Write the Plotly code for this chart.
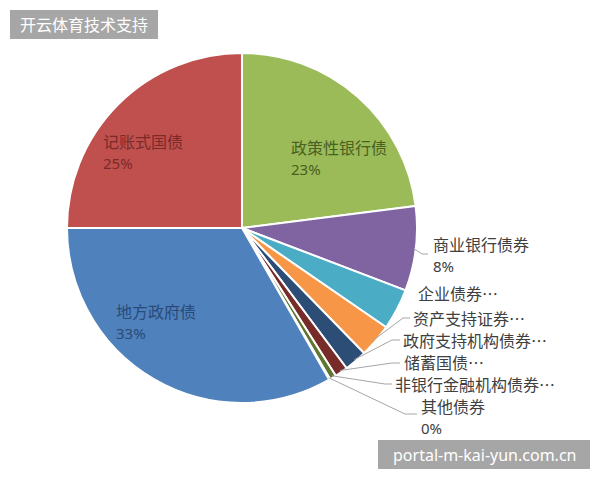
import math
import plotly.graph_objects as go

# ---- data ----
labels = ["政策性银行债", "商业银行债券", "企业债券", "资产支持证券", "政府支持机构债券",
          "储蓄国债", "非银行金融机构债券", "其他债券", "地方政府债", "记账式国债"]
values = [23.0, 7.8, 3.8, 3.1, 2.1, 1.2, 0.6, 0.1, 33.3, 25.0]
display_labels = ["政策性银行债", "商业银行债券", "企业债券…", "资产支持证券…", "政府支持机构债券…",
                  "储蓄国债…", "非银行金融机构债券…", "其他债券", "地方政府债", "记账式国债"]
show_percent = [True, True, False, False, False, False, False, True, True, True]
colors = ["#9BBB59", "#8064A2", "#4BACC6", "#F79646", "#2C4D75",
          "#772C2A", "#5F7530", "#4D3B62", "#4F81BD", "#C0504D"]

W, H = 600, 480
CX, CY, R = 242, 228, 175
FONT = "Noto Sans CJK SC"
LATIN = "Noto Sans"

def px(x):
    return x / W

def py(y):
    return 1 - y / H

fig = go.Figure(go.Pie(
    labels=labels, values=values, sort=False, direction="clockwise", rotation=0,
    marker=dict(colors=colors, line=dict(color="white", width=2)),
    textinfo="none", hoverinfo="label+percent",
    domain=dict(x=[px(CX - R), px(CX + R)], y=[py(CY + R), py(CY - R)]),
    showlegend=False,
))

total = sum(values)
cum = 0
mid_angles = []
for v in values:
    mid_angles.append((cum + v / 2) / total * 2 * math.pi)
    cum += v

def edge_point(i, r=R):
    a = mid_angles[i]
    return CX + r * math.sin(a), CY - r * math.cos(a)

def pct(i):
    return f"{round(values[i] / total * 100):.0f}%"

annotations = []
shapes = []

def add_text(x, y, text, color, size=16, family=FONT):
    annotations.append(dict(x=px(x), y=py(y), xref="paper", yref="paper", text=text,
                            showarrow=False, xanchor="left", yanchor="middle", align="left",
                            borderpad=0,
                            font=dict(family=family, size=size, color=color)))

def add_label(i, x, y, color):
    add_text(x, y, display_labels[i], color)
    if show_percent[i]:
        add_text(x, y + 22, pct(i), color, size=15, family=LATIN)

# inside labels (x left, y of first line, colour)
inside = {9: (102, 141, "#7A2B29"), 0: (290, 147, "#4A6020"), 8: (115, 311, "#2A4A78")}
for i, (x, y, c) in inside.items():
    add_label(i, x, y, c)

# outside labels: (text x-left, first line y, elbow point, line end) ; None for no line
outside = {
    1: (432, 244, (422, 254), (428, 254)),
    2: (417, 293, None, None),
    3: (412, 318, (403, 318), (410, 318)),
    4: (402, 340, (392, 340), (400, 340)),
    5: (403, 362, (392, 363), (400, 363)),
    6: (394, 384, (385, 384), (392, 384)),
    7: (420, 406, (405, 414), (417, 414)),
}
for i, (x, y, elbow, end) in outside.items():
    add_label(i, x, y, "#404040")
    if elbow is not None:
        ex, ey = edge_point(i, R - 2)
        path = f"M {px(ex)},{py(ey)} L {px(elbow[0])},{py(elbow[1])} L {px(end[0])},{py(end[1])}"
        shapes.append(dict(type="path", xref="paper", yref="paper", path=path,
                           line=dict(color="#A6A6A6", width=1)))

# title badge
shapes.append(dict(type="rect", xref="paper", yref="paper", x0=px(10), x1=px(158),
                   y0=py(39), y1=py(10), fillcolor="#A6A6A6", line=dict(width=0), layer="above"))
annotations.append(dict(x=px(84), y=py(24.5), xref="paper", yref="paper", text="开云体育技术支持",
                        showarrow=False, xanchor="center", yanchor="middle",
                        font=dict(family=FONT, size=16, color="white")))
# watermark badge
shapes.append(dict(type="rect", xref="paper", yref="paper", x0=px(378), x1=px(590),
                   y0=py(469), y1=py(440), fillcolor="#A6A6A6", line=dict(width=0), layer="above"))
annotations.append(dict(x=px(484), y=py(454.5), xref="paper", yref="paper", text="portal-m-kai-yun.com.cn",
                        showarrow=False, xanchor="center", yanchor="middle",
                        font=dict(family=LATIN, size=16, color="white")))

fig.update_layout(width=W, height=H, margin=dict(l=0, r=0, t=0, b=0),
                  paper_bgcolor="white", plot_bgcolor="white",
                  annotations=annotations, shapes=shapes)
fig.write_html("out.html", config={"displayModeBar": False},
               post_script="document.body.style.margin='0';")
